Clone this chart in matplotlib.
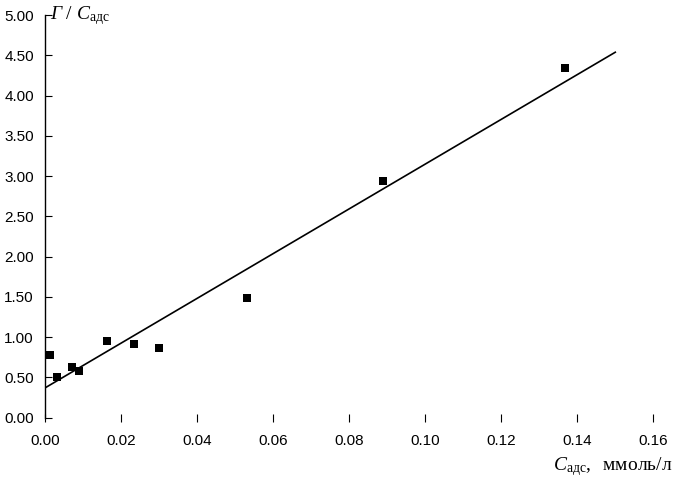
import numpy as np
import matplotlib.pyplot as plt

# ----------------------------
# Data
# ----------------------------
c_ads = [0.0014, 0.0031, 0.0072, 0.0089, 0.0162, 0.0234, 0.0300, 0.0531, 0.0888, 0.1368]
g_over_c = [0.78, 0.51, 0.63, 0.58, 0.95, 0.91, 0.87, 1.49, 2.94, 4.34]

# linear fit drawn on the chart
fit_intercept = 0.37
fit_slope = 27.8
fit_x = [0.0, 0.150]

x_ticks = [0.00, 0.02, 0.04, 0.06, 0.08, 0.10, 0.12, 0.14, 0.16]
y_ticks = [0.0, 0.5, 1.0, 1.5, 2.0, 2.5, 3.0, 3.5, 4.0, 4.5, 5.0]

plt.rcParams['font.family'] = ['Liberation Sans', 'DejaVu Sans']
plt.rcParams['mathtext.fontset'] = 'custom'
plt.rcParams['mathtext.rm'] = 'Liberation Serif'
plt.rcParams['mathtext.it'] = 'Liberation Serif:italic'

fig = plt.figure(figsize=(6.75, 4.8), dpi=100)
ax = fig.add_axes([45 / 675, 1 - 417.7 / 480, (653.3 - 45) / 675, 402.5 / 480])

ax.scatter(c_ads, g_over_c, marker='s', s=26, color='black', zorder=3, linewidths=0)
fx = np.array(fit_x)
ax.plot(fx, fit_intercept + fit_slope * fx, color='black', lw=1.2)

ax.set_xlim(0, 0.16)
ax.set_ylim(0, 5.0)
ax.set_xticks(x_ticks)
ax.set_yticks(y_ticks)
ax.set_xticklabels([f"{v:.2f}" for v in x_ticks])
ax.set_yticklabels([f"{v:.2f}" for v in y_ticks])

for side in ['top', 'right', 'bottom']:
    ax.spines[side].set_visible(False)
ax.spines['left'].set_linewidth(1.0)

ax.tick_params(axis='x', direction='inout', length=6, width=0.8, pad=9, labelsize=11)
ax.tick_params(axis='y', direction='in', length=5, width=0.8, pad=8, labelsize=11)

# axis captions
fig.text(50 / 675, 1 - 16 / 480, r'$\mathit{Г}\ /\ \mathit{C}_{\mathrm{адс}}$',
         fontsize=14, ha='left', va='center')
fig.text(672 / 675, 1 - 467 / 480, r'$\mathit{C}_{\mathrm{адс}},\ \ \mathrm{ммоль/л}$',
         fontsize=14, ha='right', va='center')

fig.savefig('out.png', dpi=100)
